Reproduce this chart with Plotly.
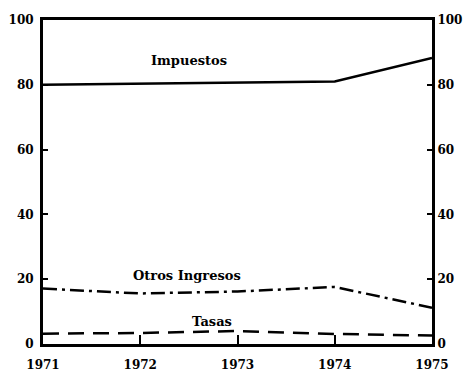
import plotly.graph_objects as go

years = [1971, 1972, 1973, 1974, 1975]
impuestos = [80.0, 80.3, 80.6, 81.0, 88.3]
otros_ingresos = [17.1, 15.6, 16.2, 17.6, 11.2]
tasas = [3.2, 3.4, 4.0, 3.1, 2.6]
year_labels = ["1971", "1972", "1973", "1974", "1975"]
y_ticks = [0, 20, 40, 60, 80, 100]

FONT = dict(family="DejaVu Serif", size=12, color="black", weight="bold")
LABEL_FONT = dict(family="DejaVu Serif", size=13, color="black", weight="bold")

fig = go.Figure()
fig.add_trace(go.Scatter(x=years, y=impuestos, mode="lines",
                         line=dict(color="black", width=2.5), showlegend=False))
fig.add_trace(go.Scatter(x=years, y=otros_ingresos, mode="lines",
                         line=dict(color="black", width=2.5, dash="14px,5px,3px,5px"),
                         showlegend=False))
fig.add_trace(go.Scatter(x=years, y=tasas, mode="lines",
                         line=dict(color="black", width=2.5, dash="16px,9px"),
                         showlegend=False))
# invisible trace to keep the right-hand axis on the page
fig.add_trace(go.Scatter(x=[years[0]], y=[0], yaxis="y2", mode="markers",
                         marker=dict(opacity=0), showlegend=False, hoverinfo="skip"))

labels = [("Impuestos", 1972.5, 87.6), ("Otros Ingresos", 1972.48, 21.0), ("Tasas", 1972.74, 7.0)]
for txt, x, y in labels:
    fig.add_annotation(x=x, y=y, text=txt, showarrow=False, font=LABEL_FONT)

fig.update_layout(
    width=472, height=371,
    margin=dict(l=43, r=40, t=20, b=27),
    paper_bgcolor="white", plot_bgcolor="white",
    font=FONT,
    xaxis=dict(range=[1971, 1975], tickvals=years, ticktext=year_labels,
               ticks="inside", ticklen=9, tickwidth=2, tickcolor="black",
               ticklabelstandoff=8, automargin=False,
               showgrid=False, zeroline=False, showline=True, linewidth=3,
               linecolor="black", mirror=True, tickfont=FONT),
    yaxis=dict(range=[0, 100], tickvals=y_ticks, ticks="inside", ticklen=5,
               tickwidth=2, tickcolor="black", showgrid=False, zeroline=False,
               ticklabelstandoff=4, automargin=False,
               showline=True, linewidth=3, linecolor="black", tickfont=FONT),
    yaxis2=dict(range=[0, 100], tickvals=y_ticks, overlaying="y", side="right",
                anchor="x", ticks="inside", ticklen=5, tickwidth=2, tickcolor="black",
                automargin=False,
                showgrid=False, zeroline=False, showline=True, linewidth=3,
                linecolor="black", tickfont=FONT),
)

fig.write_html("out.html")
